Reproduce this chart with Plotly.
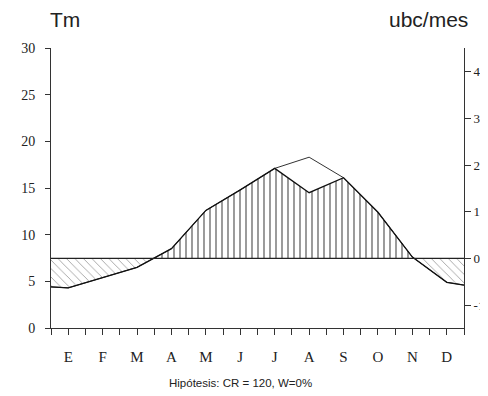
import plotly.graph_objects as go

months = ["E", "F", "M", "A", "M", "J", "J", "A", "S", "O", "N", "D"]
x_pos = [0.5, 1, 2, 3, 4, 5, 6, 7, 8, 9, 10, 11, 12, 12.5]
tm = [4.4, 4.3, 5.4, 6.5, 8.5, 12.6, 14.8, 17.1, 18.3, 16.1, 12.4, 7.6, 4.9, 4.6]
ubc = [-0.61, -0.63, -0.41, -0.19, 0.21, 1.03, 1.47, 1.93, 1.41, 1.73, 0.99, 0.03, -0.51, -0.57]
tm_left = [0, 5, 10, 15, 20, 25, 30]
ubc_ticks = [-1, 0, 1, 2, 3, 4]
ubc_ticktext = ["-1", "0", "1", "2", "3", "4"]
T0 = 7.45     # Tm level matching ubc = 0
K = 5.0       # Tm units per ubc unit

# split ubc into positive and negative parts with crossing points
px, pp, pn = [], [], []
for i in range(len(x_pos)):
    if i > 0:
        a, b = ubc[i - 1], ubc[i]
        if a * b < 0:
            xc = x_pos[i - 1] + (x_pos[i] - x_pos[i - 1]) * (-a) / (b - a)
            px.append(xc); pp.append(0); pn.append(0)
    px.append(x_pos[i]); pp.append(max(ubc[i], 0)); pn.append(min(ubc[i], 0))

fig = go.Figure()
fig.add_trace(go.Scatter(x=px, y=pp, yaxis="y2", mode="lines", line=dict(color="black", width=0),
                         fill="tozeroy", fillcolor="rgba(0,0,0,0)",
                         fillpattern=dict(shape="|", size=6, solidity=0.28, fgcolor="#111", bgcolor="rgba(0,0,0,0)"),
                         showlegend=False, hoverinfo="skip"))
fig.add_trace(go.Scatter(x=px, y=pn, yaxis="y2", mode="lines", line=dict(color="black", width=0),
                         fill="tozeroy", fillcolor="rgba(0,0,0,0)",
                         fillpattern=dict(shape="\\", size=6, solidity=0.15, fgcolor="#444", bgcolor="rgba(0,0,0,0)"),
                         showlegend=False, hoverinfo="skip"))
fig.add_trace(go.Scatter(x=x_pos, y=tm, mode="lines", line=dict(color="#333", width=1),
                         showlegend=False))
fig.add_trace(go.Scatter(x=x_pos, y=ubc, yaxis="y2", mode="lines", line=dict(color="#111", width=1.3),
                         showlegend=False))

tickv = [0.5 + 0.5 * i for i in range(25)]
tickt = []
for v in tickv:
    if float(v).is_integer() and 1 <= v <= 12:
        tickt.append(months[int(v) - 1])
    else:
        tickt.append("")

# page body has an 8px margin; figure is sized so it fills the 488x396 window
W, H = 480, 388
L, R, T, B = 43, 24, 40, 68
serif = dict(family="Liberation Serif, Times New Roman, serif", size=14, color="#222")
fig.update_layout(
    width=W, height=H,
    margin=dict(l=L, r=R, t=T, b=B),
    paper_bgcolor="white", plot_bgcolor="white",
    xaxis=dict(range=[0.5, 12.5], tickvals=tickv, ticktext=tickt, ticks="outside", ticklen=6,
               tickcolor="#333", showline=True, linecolor="#333", linewidth=1, showgrid=False,
               zeroline=False, tickfont=dict(serif, size=15), ticklabelstandoff=9, automargin=False),
    yaxis=dict(range=[0, 30], tickvals=tm_left, ticks="outside", ticklen=5, tickcolor="#333",
               showline=True, linecolor="#333", linewidth=1, showgrid=False, zeroline=False,
               tickfont=serif, ticklabelstandoff=7, automargin=False),
    yaxis2=dict(overlaying="y", side="right", range=[(0 - T0) / K, (30 - T0) / K],
                tickvals=ubc_ticks, ticktext=ubc_ticktext, ticks="outside", ticklen=6, tickcolor="#333",
                showline=True, linecolor="#333", linewidth=1, showgrid=False,
                zeroline=False, tickfont=dict(serif, size=13), ticklabelstandoff=0, automargin=False),
    shapes=[dict(type="line", xref="paper", x0=0, x1=1, yref="y2", y0=0, y1=0,
                 line=dict(color="#222", width=1.2), layer="above")],
)
pw, ph = W - L - R, H - T - B
anns = [
    dict(text="Tm", xpx=57, ypx=12, size=21),
    dict(text="ubc/mes", xpx=420, ypx=12, size=21),
    dict(text="Hipótesis: CR = 120, W=0%", xpx=232, ypx=375, size=11.5),
]
for a in anns:
    fig.add_annotation(text=a["text"], xref="paper", yref="paper",
                       x=(a["xpx"] - L) / pw, y=1 - (a["ypx"] - T) / ph,
                       showarrow=False, xanchor="center", yanchor="middle",
                       font=dict(family="Liberation Sans, Arial, sans-serif", size=a["size"], color="#222"))

fig.write_html("out.html")
